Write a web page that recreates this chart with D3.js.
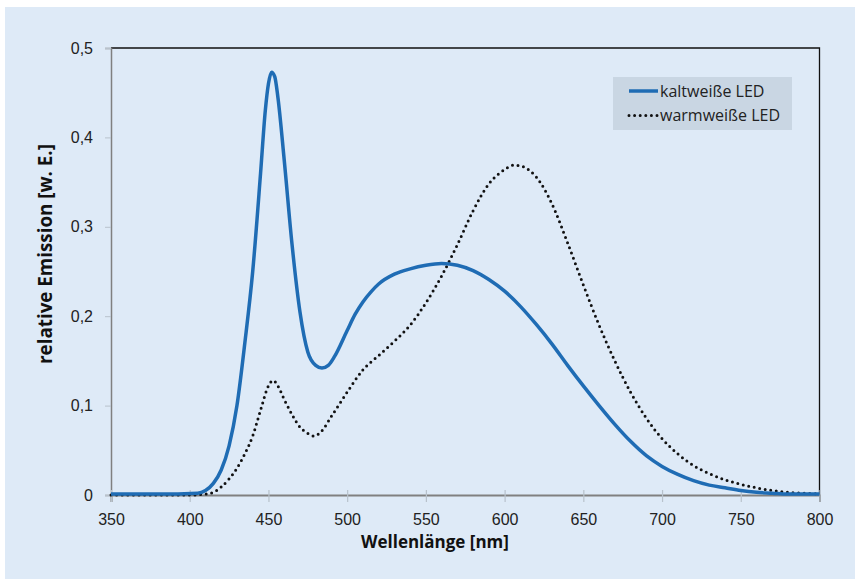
<!DOCTYPE html>
<html>
<head>
<meta charset="utf-8">
<script src="https://cdn.jsdelivr.net/npm/d3@7"></script>
<style>
  body { margin: 0; background: #fff; }
  svg { display: block; font-family: "Open Sans", "Liberation Sans", sans-serif; }
</style>
</head>
<body>
<svg width="855" height="579"></svg>
<script>
// Wellenlängen [nm] und relative Emission
const kaltX = [350, 380, 405, 410, 415, 420, 425, 430, 435, 440, 445, 448, 450, 452, 454, 456, 460, 465, 470, 475, 480, 484, 488, 492, 500, 505, 510, 515, 520, 530, 540, 550, 560, 570, 580, 590, 600, 610, 620, 630, 640, 650, 660, 670, 680, 690, 700, 710, 720, 730, 740, 750, 760, 770, 780, 800];
const kaltY = [0.001, 0.001, 0.002, 0.005, 0.013, 0.028, 0.055, 0.1, 0.17, 0.25, 0.36, 0.43, 0.46, 0.473, 0.468, 0.445, 0.375, 0.28, 0.205, 0.16, 0.145, 0.142, 0.145, 0.155, 0.184, 0.202, 0.216, 0.227, 0.236, 0.247, 0.253, 0.257, 0.259, 0.257, 0.251, 0.241, 0.228, 0.211, 0.191, 0.169, 0.145, 0.122, 0.1, 0.079, 0.06, 0.044, 0.032, 0.023, 0.016, 0.011, 0.008, 0.005, 0.003, 0.002, 0.001, 0.001];

const warmX = [350, 400, 410, 415, 420, 425, 430, 435, 440, 445, 450, 453, 456, 460, 465, 470, 475, 479, 484, 490, 500, 510, 520, 530, 540, 550, 560, 570, 580, 590, 600, 606, 612, 620, 630, 640, 650, 660, 670, 680, 690, 700, 710, 720, 730, 740, 750, 760, 770, 780, 790, 800];
const warmY = [0, 0, 0.001, 0.003, 0.009, 0.018, 0.03, 0.046, 0.066, 0.095, 0.122, 0.128, 0.122, 0.107, 0.09, 0.076, 0.069, 0.066, 0.072, 0.088, 0.115, 0.14, 0.156, 0.172, 0.19, 0.215, 0.245, 0.28, 0.318, 0.348, 0.364, 0.369, 0.367, 0.356, 0.326, 0.282, 0.235, 0.19, 0.15, 0.115, 0.086, 0.063, 0.046, 0.033, 0.024, 0.017, 0.012, 0.008, 0.005, 0.003, 0.002, 0.001];

const xTicks = [350, 400, 450, 500, 550, 600, 650, 700, 750, 800];
const yTicks = [0, 0.1, 0.2, 0.3, 0.4, 0.5];
const seriesNames = ['kaltweiße LED', 'warmweiße LED'];

const svg = d3.select('svg');
const blue = '#1f6cb4';

svg.append('rect')
  .attr('x', 5).attr('y', 7)
  .attr('width', 850).attr('height', 572)
  .attr('fill', '#deeaf7');

const margin = { left: 111, right: 35.5, top: 48, bottom: 84 };
const width = 855 - margin.left - margin.right;
const height = 579 - margin.top - margin.bottom;

const x = d3.scaleLinear().domain([350, 800]).range([margin.left, margin.left + width]);
const y = d3.scaleLinear().domain([0, 0.5]).range([margin.top + height, margin.top]);

// frame top + right
svg.append('path')
  .attr('d', `M${x(350)},${y(0.5)}H${x(800)}V${y(0)}`)
  .attr('fill', 'none')
  .attr('stroke', '#111')
  .attr('stroke-width', 1.3);

// y axis
const yAxis = svg.append('g')
  .attr('transform', `translate(${x(350)},0)`)
  .call(d3.axisLeft(y).tickValues(yTicks).tickSize(6).tickPadding(12)
    .tickFormat(d => d === 0 ? '0' : d3.format('.1f')(d).replace('.', ',')));
yAxis.select('.domain').attr('stroke', '#808080').attr('stroke-width', 1.5);
yAxis.selectAll('.tick line').attr('stroke', '#b8c2cc');
yAxis.selectAll('.tick text').attr('font-size', 16).attr('fill', '#222');

// x axis
const xAxis = svg.append('g')
  .attr('transform', `translate(0,${y(0)})`)
  .call(d3.axisBottom(x).tickValues(xTicks).tickSize(7));
xAxis.select('.domain').attr('stroke', '#808080').attr('stroke-width', 2);
xAxis.selectAll('.tick line').attr('stroke', '#b8c2cc').attr('y1', -5).attr('stroke-width', 1.2);
xAxis.selectAll('.tick text').attr('y', 18.5).attr('font-size', 16).attr('fill', '#222');

const line = d3.line()
  .x(d => x(d[0]))
  .y(d => y(d[1]))
  .curve(d3.curveMonotoneX);

svg.append('path')
  .datum(warmX.map((v, i) => [v, warmY[i]]))
  .attr('d', line)
  .attr('fill', 'none')
  .attr('stroke', '#111')
  .attr('stroke-width', 3)
  .attr('stroke-linecap', 'round')
  .attr('stroke-dasharray', '0 5.6');

svg.append('path')
  .datum(kaltX.map((v, i) => [v, kaltY[i]]))
  .attr('d', line)
  .attr('fill', 'none')
  .attr('stroke', blue)
  .attr('stroke-width', 3.5);

// axis titles
svg.append('text')
  .attr('x', 435).attr('y', 548)
  .attr('text-anchor', 'middle')
  .attr('font-size', 17).attr('font-weight', 'bold').attr('fill', '#111')
  .text('Wellenlänge [nm]');

svg.append('text')
  .attr('transform', 'translate(52,254) rotate(-90)')
  .attr('text-anchor', 'middle')
  .attr('font-size', 18.8).attr('font-weight', 'bold').attr('fill', '#111')
  .text('relative Emission [w. E.]');

// legend
const legend = svg.append('g');
legend.append('rect')
  .attr('x', 613).attr('y', 77)
  .attr('width', 179).attr('height', 53)
  .attr('fill', '#c9d6e3');

const items = legend.selectAll('.item')
  .data(seriesNames)
  .enter()
  .append('g')
  .attr('class', 'item')
  .attr('transform', (d, i) => `translate(629,${91 + i * 24.5})`);

items.append('line')
  .attr('x1', 0).attr('x2', 29)
  .attr('stroke', (d, i) => i === 0 ? blue : '#111')
  .attr('stroke-width', (d, i) => i === 0 ? 3.5 : 3)
  .attr('stroke-linecap', (d, i) => i === 0 ? 'butt' : 'round')
  .attr('stroke-dasharray', (d, i) => i === 0 ? null : '0 5.6');

items.append('text')
  .attr('x', 31).attr('dy', '0.35em')
  .attr('font-size', 16).attr('fill', '#222')
  .text(d => d);
</script>
</body>
</html>
